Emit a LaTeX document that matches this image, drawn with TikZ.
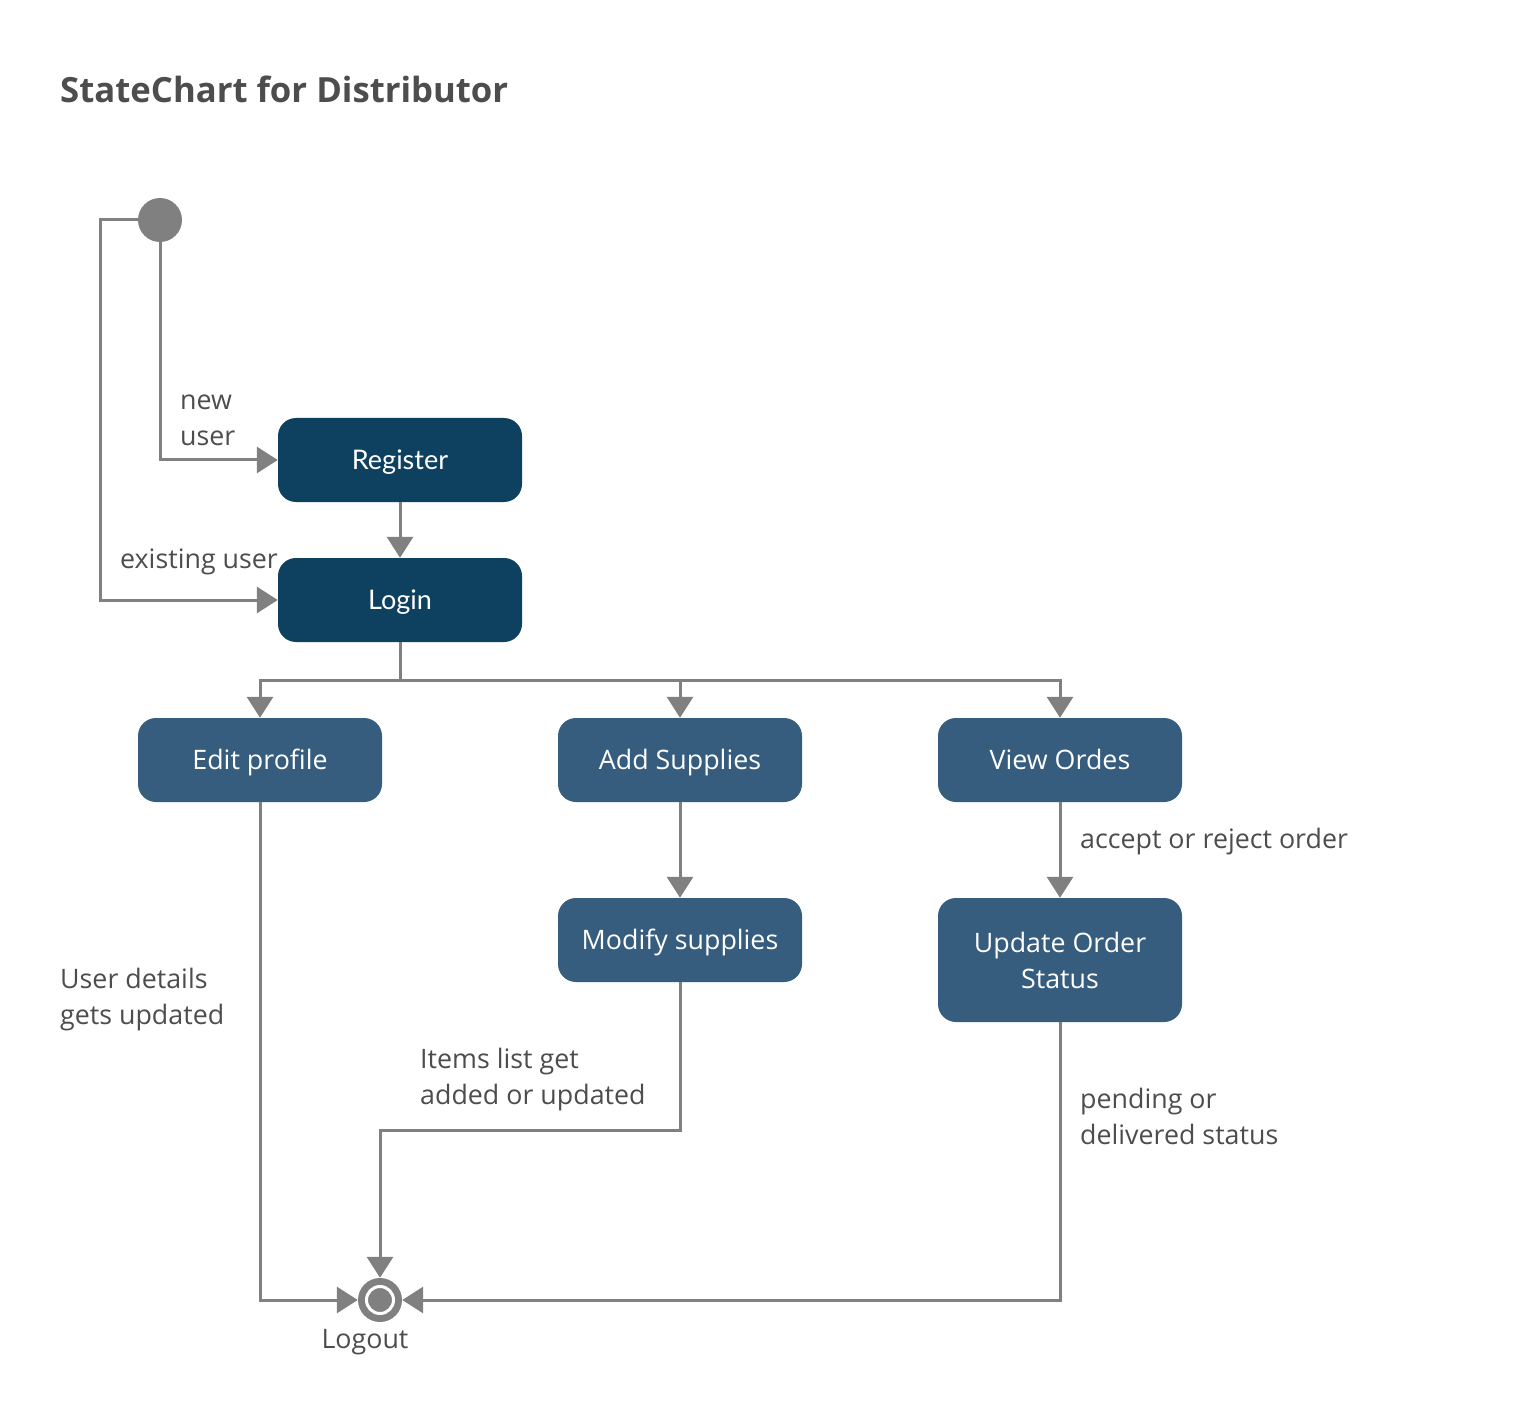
\documentclass[tikz,border=0pt]{standalone}
\usepackage{fontspec}
\setmainfont{Open Sans}
\newfontfamily\latofont{Lato}
\usetikzlibrary{arrows.meta}
\definecolor{darkbox}{HTML}{0E4060}
\definecolor{midbox}{HTML}{365C7E}
\definecolor{ln}{HTML}{808080}
\definecolor{txt}{HTML}{4D4D4D}
\begin{document}
\begin{tikzpicture}[x=1pt,y=-1pt,
  statebase/.style={rounded corners=18pt, minimum width=244pt, minimum height=84pt, text=white,
    font=\fontsize{26.8}{36}\selectfont, align=center, inner sep=0pt},
  statebox/.style={statebase, text height=24.5pt, text depth=5.5pt},
  conn/.style={draw=ln, line width=3pt, -{Triangle[width=26pt,length=21pt]}},
  plain/.style={draw=ln, line width=3pt},
  lbl/.style={text=txt, font=\fontsize{26.8}{36}\selectfont, align=left, anchor=west, inner sep=0pt}]
\useasboundingbox[fill=white] (0,0) rectangle (1540,1420);

\node[anchor=west, text=txt, inner sep=0pt, font=\fontsize{34.7}{44}\selectfont\bfseries] (title) at (60,89) {StateChart for Distributor};

\node[circle, fill=ln, minimum size=44pt, inner sep=0pt] (start) at (160,220) {};
\node[statebox, fill=darkbox, font=\latofont\fontsize{27}{36}\selectfont] (reg) at (400,460) {Register};
\node[statebox, fill=darkbox, font=\latofont\fontsize{27}{36}\selectfont] (login) at (400,600) {Login};
\node[statebox, fill=midbox] (edit) at (260,760) {Edit profile};
\node[statebox, fill=midbox] (add) at (680,760) {Add Supplies};
\node[statebox, fill=midbox] (view) at (1060,760) {View Ordes};
\node[statebox, fill=midbox] (mod) at (680,940) {Modify supplies};
\node[statebase, fill=midbox, minimum height=124pt] (upd) at (1060,960) {Update Order\\Status};
\node[circle, fill=ln, minimum size=44pt, inner sep=0pt] (logout) at (380,1300) {};
\draw[white, line width=3pt] (logout.center) circle (13.5pt);

\coordinate (c1) at (100,220);
\coordinate (bus) at (400,680);
\coordinate (m1) at (680,1130);

\draw[conn] (start.south) |- (reg.west);
\draw[conn] (start.west) -- (c1) |- (login.west);
\draw[conn] (reg) -- (login);
\draw[plain] (login.south) -- (bus);
\draw[conn] (bus) -| (edit.north);
\draw[conn] (bus) -| (add.north);
\draw[conn] (bus) -| (view.north);
\draw[conn] (add) -- (mod);
\draw[conn] (view) -- (upd);
\draw[conn] (edit.south) |- (logout.west);
\draw[conn] (mod.south) -- (m1) -| (logout.north);
\draw[conn] (upd.south) |- (logout.east);

\node[lbl] (l1) at (180,420) {new\\user};
\node[lbl] (l2) at (120,562) {existing user};
\node[lbl] (l3) at (1080,842) {accept or reject order};
\node[lbl] (l4) at (60,1000) {User details\\gets updated};
\node[lbl] (l5) at (420,1080) {Items list get\\added or updated};
\node[lbl] (l6) at (1080,1116) {pending or\\delivered status};
\node[text=txt, font=\fontsize{26.8}{36}\selectfont, inner sep=0pt] (l7) at (365,1342) {Logout};
\end{tikzpicture}
\end{document}
